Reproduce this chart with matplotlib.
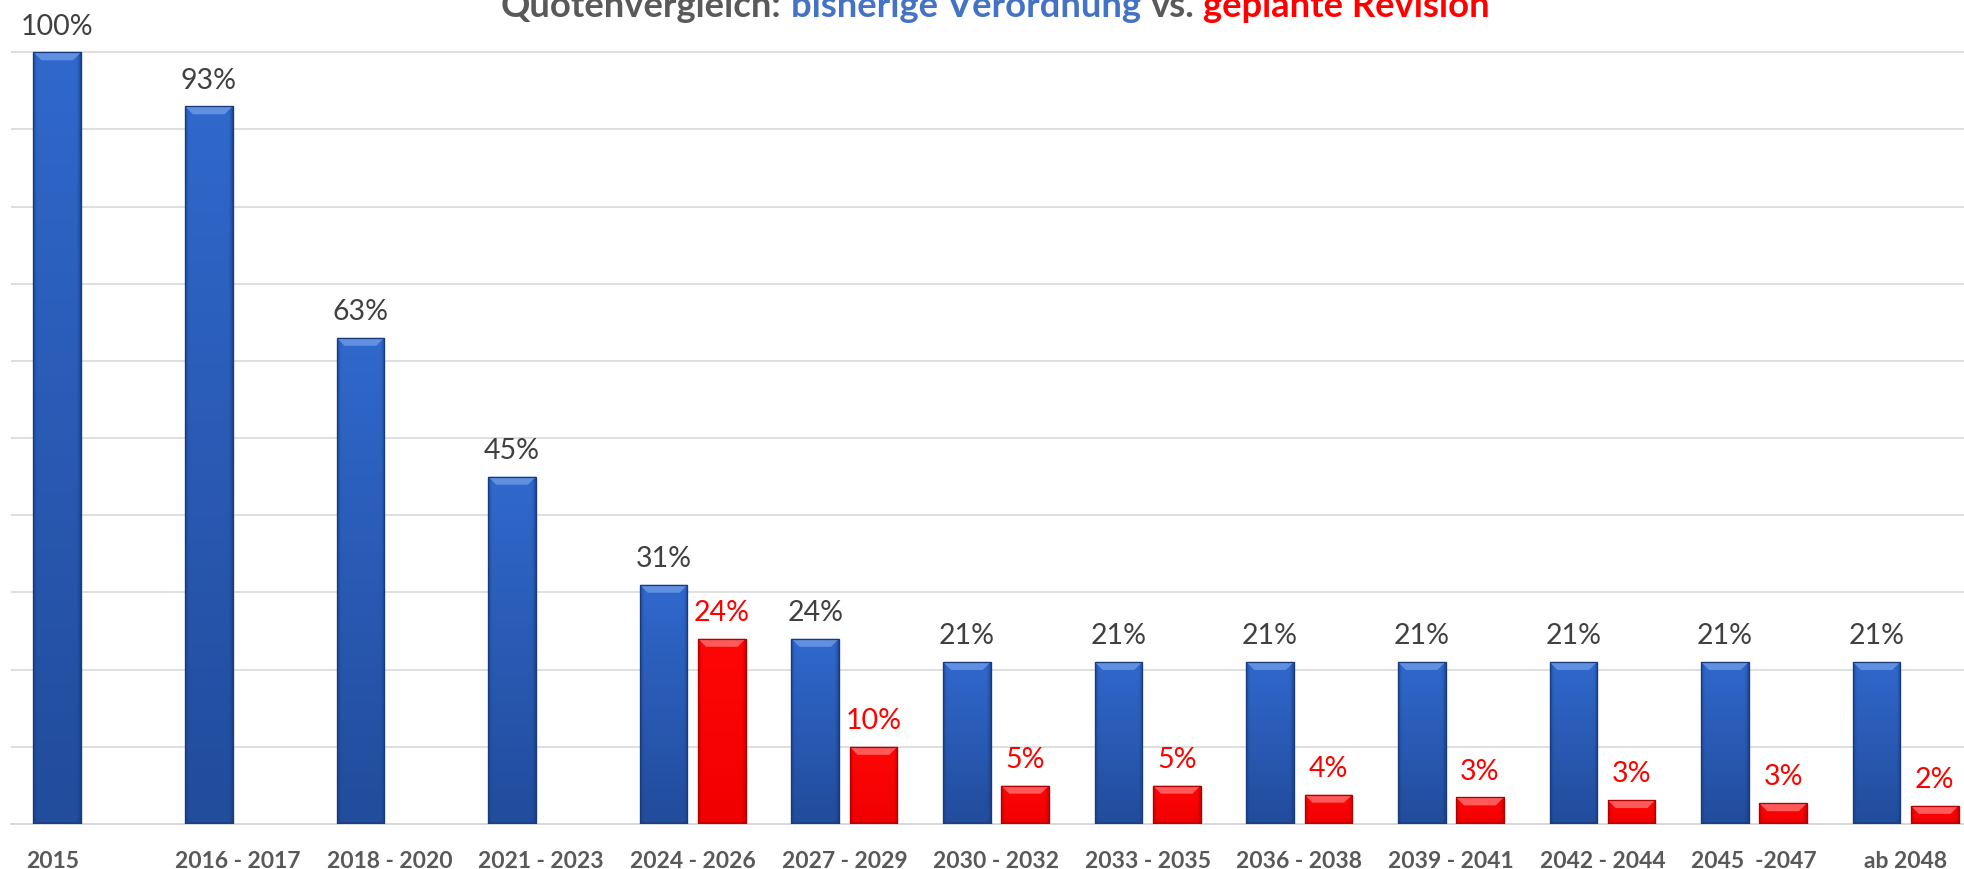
import numpy as np
import matplotlib
matplotlib.use("Agg")
import matplotlib.pyplot as plt
from matplotlib.colors import to_rgb
from matplotlib.patches import Polygon
import matplotlib.transforms as mtransforms

plt.rcParams['font.family'] = ['Lato', 'DejaVu Sans']

# ---------------- data ----------------
categories = ["2015", "2016 - 2017", "2018 - 2020", "2021 - 2023", "2024 - 2026",
              "2027 - 2029", "2030 - 2032", "2033 - 2035", "2036 - 2038",
              "2039 - 2041", "2042 - 2044", "2045  -2047", "ab 2048"]
bisherig = [100, 93, 63, 45, 31, 24, 21, 21, 21, 21, 21, 21, 21]
revision = [np.nan, np.nan, np.nan, np.nan, 24, 10, 4.97, 4.97, 3.8, 3.45, 3.1, 2.7, 2.35]
bisherig_labels = ["100%", "93%", "63%", "45%", "31%", "24%", "21%", "21%", "21%",
                   "21%", "21%", "21%", "21%"]
revision_labels = [None, None, None, None, "24%", "10%", "5%", "5%", "4%", "3%", "3%",
                   "3%", "2%"]
title_parts = ["Quotenvergleich:", "bisherige Verordnung", "vs.", "geplante Revision"]

# ---------------- style ----------------
W, H, DPI = 1964, 870, 100
GRID = "#d9d9d9"
LABEL_GRAY = "#404040"
TICK_GRAY = "#595959"
RED_TXT = "#ff0000"

fig = plt.figure(figsize=(W / DPI, H / DPI), dpi=DPI)
fig.patch.set_facecolor("white")
ax_left, ax_bottom = 11 / W, 45 / H
ax = fig.add_axes([ax_left, ax_bottom, 1 - ax_left, 1 - ax_bottom])

n = len(categories)
x = np.arange(n)
bw = 0.314
off = 0.192

XLIM = (-0.497, 12.385)
YLIM = (0, 106.9)

blue_bars = ax.bar(x - off, bisherig, bw, color="#2c60c4", edgecolor="#1d3f86",
                   linewidth=0.8, zorder=3)
red_bars = ax.bar(x + off, revision, bw, color="#ff0000", edgecolor="#b80000",
                  linewidth=0.8, zorder=3)

ax_w_px = W * (1 - ax_left)
ax_h_px = H * (1 - ax_bottom)
px_x = (XLIM[1] - XLIM[0]) / ax_w_px
px_y = (YLIM[1] - YLIM[0]) / ax_h_px


def decorate(bar, top, bot, edge_dark, bevel_col, bevel_px=8):
    h = bar.get_height()
    if not np.isfinite(h) or h <= 0:
        return
    x0, y0, w = bar.get_x(), bar.get_y(), bar.get_width()
    top = np.array(to_rgb(top))
    bot = np.array(to_rgb(bot))
    ny, nx = 128, 48
    t = np.linspace(0, 1, ny)[:, None, None]
    s = np.linspace(-1, 1, nx)[None, :, None]
    img = top * (1 - t) + bot * t
    dark = np.array(to_rgb(edge_dark))
    k = np.clip((np.abs(s) - 0.82) / 0.18, 0, 1) ** 1.5 * 0.6
    img = img * (1 - k) + dark * k
    img = np.broadcast_to(img, (ny, nx, 3)).copy()
    im = ax.imshow(img, extent=(x0, x0 + w, y0, y0 + h), origin="upper",
                   aspect="auto", zorder=3.1, interpolation="bilinear")
    im.set_clip_path(bar)
    # top bevel
    dy = min(bevel_px * px_y, h * 0.5)
    dx = bevel_px * px_x
    poly = Polygon([(x0, y0 + h), (x0 + w, y0 + h), (x0 + w - dx, y0 + h - dy),
                    (x0 + dx, y0 + h - dy)], closed=True, facecolor=bevel_col,
                   edgecolor="none", zorder=3.2, alpha=0.85)
    ax.add_patch(poly)
    # bottom dark line
    bl = min(2.5 * px_y, h * 0.2)
    ax.add_patch(Polygon([(x0, y0), (x0 + w, y0), (x0 + w, y0 + bl), (x0, y0 + bl)],
                         closed=True, facecolor=edge_dark, edgecolor="none",
                         zorder=3.2, alpha=0.6))
    # outline on top
    outline = plt.Rectangle((x0, y0), w, h, fill=False, edgecolor=edge_dark,
                            linewidth=0.9, zorder=3.3)
    ax.add_patch(outline)


for b in blue_bars:
    decorate(b, "#3068cc", "#224c9c", "#173a7c", "#6a98e6")
for b in red_bars:
    decorate(b, "#ff0606", "#f00000", "#b00000", "#ff6a6a")

# data labels
for b, lab in zip(blue_bars, bisherig_labels):
    ax.annotate(lab, (b.get_x() + b.get_width() / 2, b.get_height()),
                xytext=(0, 13.5), textcoords="offset points", ha="center",
                va="baseline", fontsize=20.5, color=LABEL_GRAY, zorder=5)
for b, lab in zip(red_bars, revision_labels):
    if lab is None:
        continue
    ax.annotate(lab, (b.get_x() + b.get_width() / 2, b.get_height()),
                xytext=(0, 13.5), textcoords="offset points", ha="center",
                va="baseline", fontsize=20.5, color=RED_TXT, zorder=5)

# axes styling
ax.set_xlim(*XLIM)
ax.set_ylim(*YLIM)
ax.set_yticks(np.arange(0, 101, 10))
ax.set_yticklabels([])
ax.yaxis.grid(True, color=GRID, linewidth=1.2, zorder=0)
ax.set_axisbelow(True)
for side in ["top", "right", "left"]:
    ax.spines[side].set_visible(False)
ax.spines["bottom"].set_color(GRID)
ax.spines["bottom"].set_linewidth(1.4)
ax.spines["bottom"].set_zorder(2)
ax.tick_params(axis="y", length=0)
ax.set_xticks(x)
ax.set_xticklabels(categories, fontsize=16.5, fontweight="bold", color=TICK_GRAY)
ax.tick_params(axis="x", length=0, pad=18.5)
first = ax.get_xticklabels()[0]
first.set_transform(first.get_transform() +
                    mtransforms.ScaledTranslation(-34 / DPI, 0, fig.dpi_scale_trans))

# title (partially cut off at top, as in reference)
title_colors = ["#595959", "#4472c4", "#595959", "#ff0000"]
renderer = fig.canvas.get_renderer()
fs = 24
texts = [fig.text(0, 1 - 17 / H, p, fontsize=fs, fontweight="bold", color=c,
                  ha="left", va="baseline") for p, c in zip(title_parts, title_colors)]
t1 = fig.text(0, 0, "x x", fontsize=fs, fontweight="bold")
t2 = fig.text(0, 0, "xx", fontsize=fs, fontweight="bold")
space = t1.get_window_extent(renderer).width - t2.get_window_extent(renderer).width
t1.remove(); t2.remove()
widths = [t.get_window_extent(renderer).width for t in texts]
total = sum(widths) + 3 * space
scale = 990 / total
for t in texts:
    t.set_fontsize(fs * scale)
widths = [w_ * scale for w_ in widths]
space *= scale
xpos = 501
for t, w_ in zip(texts, widths):
    t.set_x(xpos / W)
    xpos += w_ + space

fig.savefig("out.png", dpi=DPI, facecolor="white")
